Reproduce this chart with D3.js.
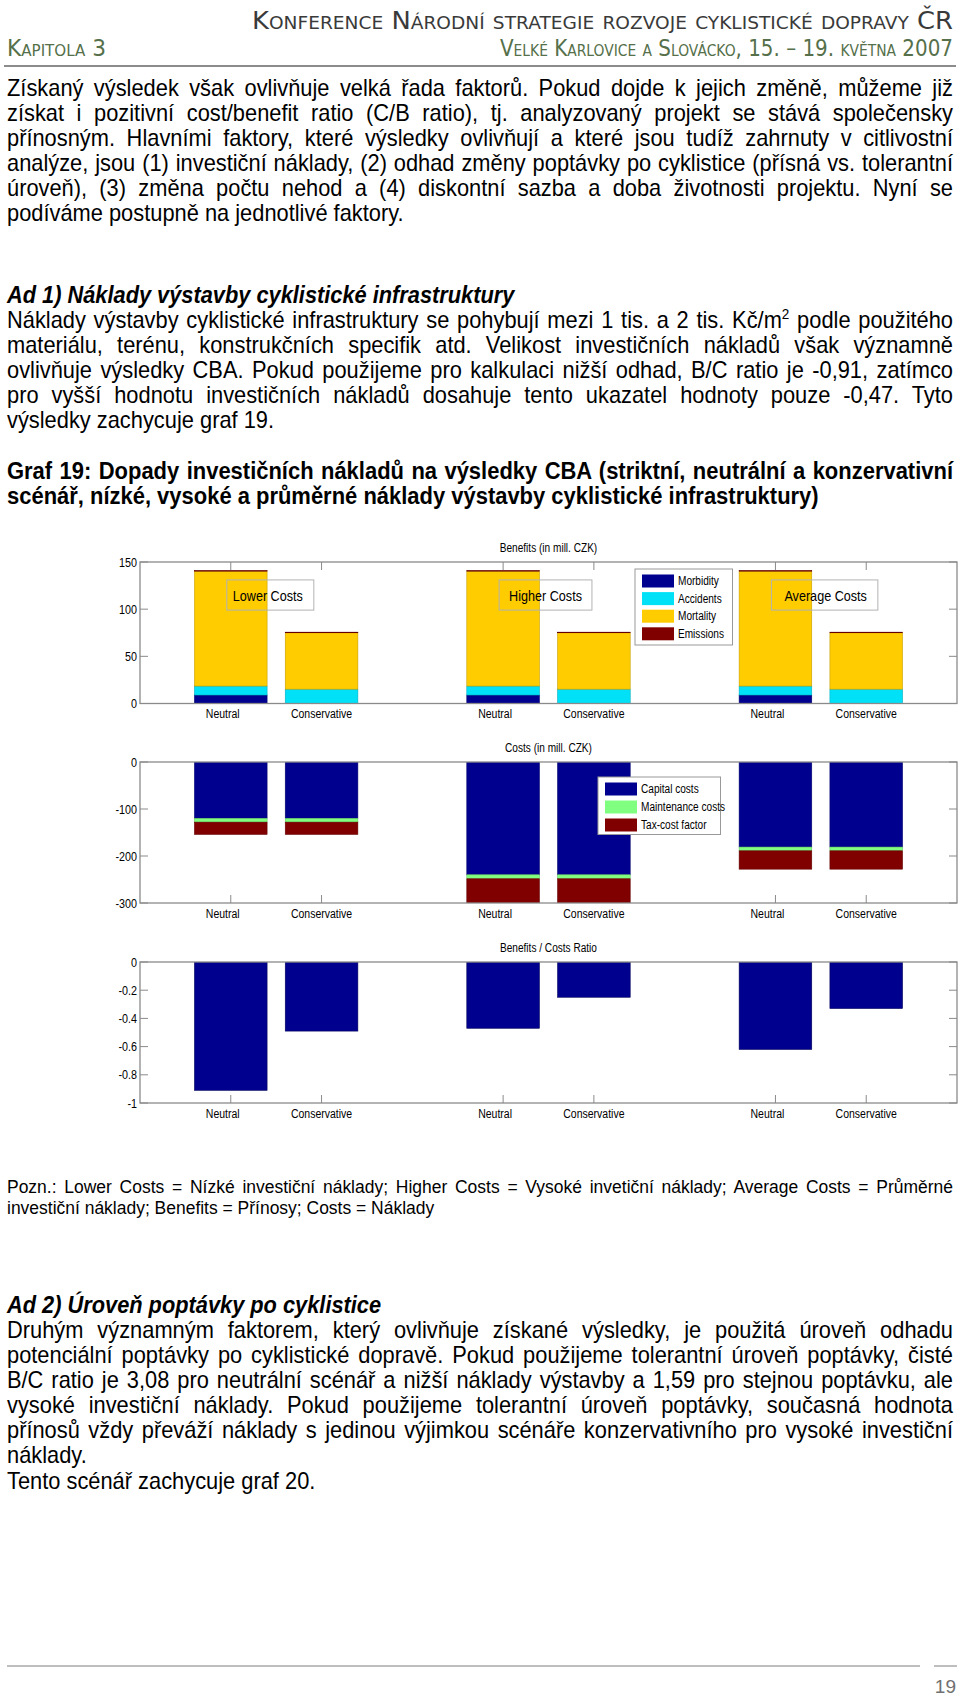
<!DOCTYPE html>
<html lang="cs"><head><meta charset="utf-8">
<script src="https://cdn.jsdelivr.net/npm/d3@7"></script>
<style>body{margin:0;background:#fff}svg{display:block}</style>
</head><body><svg id="page" width="960" height="1696"></svg>
<script>
// ---------- DATA ----------
const groups = ["Lower Costs", "Higher Costs", "Average Costs"];
const scenarios = ["Neutral", "Conservative"];
const benefitSeries = ["Morbidity", "Accidents", "Mortality", "Emissions"];
const morbidity = [9, 0, 9, 0, 9, 0];
const accidents = [9.5, 15.2, 9.5, 15.2, 9.5, 15.2];
const mortality = [121.8, 59.8, 121.8, 59.8, 121.8, 59.8];
const emissions = [0.5, 0.6, 0.5, 0.6, 0.5, 0.6];
const costSeries = ["Capital costs", "Maintenance costs", "Tax-cost factor"];
const capitalCosts = [-120, -120, -240, -240, -181, -181];
const maintenanceCosts = [-8, -8, -8.5, -8.5, -8, -8];
const taxCostFactor = [-26, -26, -51.5, -51.5, -39, -39];
const bcRatio = [-0.91, -0.49, -0.47, -0.25, -0.62, -0.33];
const benefitTicks = [0, 50, 100, 150];
const costTicks = [-300, -200, -100, 0];
const ratioTicks = [-1, -0.8, -0.6, -0.4, -0.2, 0];

// ---------- TEXT ----------
const headerLine1 = "Konference Národní strategie rozvoje cyklistické dopravy ČR";
const headerLeft = "Kapitola 3";
const headerRight = "Velké Karlovice a Slovácko, 15. – 19. května 2007";
const para1 = [
 "Získaný výsledek však ovlivňuje velká řada faktorů. Pokud dojde k jejich změně, můžeme již",
 "získat i pozitivní cost/benefit ratio (C/B ratio), tj. analyzovaný projekt se stává společensky",
 "přínosným. Hlavními faktory, které výsledky ovlivňují a které jsou tudíž zahrnuty v citlivostní",
 "analýze, jsou (1) investiční náklady, (2) odhad změny poptávky po cyklistice (přísná vs. tolerantní",
 "úroveň), (3) změna počtu nehod a (4) diskontní sazba a doba životnosti projektu. Nyní se",
 "podíváme postupně na jednotlivé faktory."];
const heading1 = "Ad 1) Náklady výstavby cyklistické infrastruktury";
const para2 = [
 "Náklady výstavby cyklistické infrastruktury se pohybují mezi 1 tis. a 2 tis. Kč/m^2 podle použitého",
 "materiálu, terénu, konstrukčních specifik atd. Velikost investičních nákladů však významně",
 "ovlivňuje výsledky CBA. Pokud použijeme pro kalkulaci nižší odhad, B/C ratio je -0,91, zatímco",
 "pro vyšší hodnotu investičních nákladů dosahuje tento ukazatel hodnoty pouze -0,47. Tyto",
 "výsledky zachycuje graf 19."];
const figTitle = [
 "Graf 19: Dopady investičních nákladů na výsledky CBA (striktní, neutrální a konzervativní",
 "scénář, nízké, vysoké a průměrné náklady výstavby cyklistické infrastruktury)"];
const note = [
 "Pozn.: Lower Costs = Nízké investiční náklady; Higher Costs = Vysoké invetiční náklady; Average Costs = Průměrné",
 "investiční náklady; Benefits = Přínosy; Costs = Náklady"];
const heading2 = "Ad 2) Úroveň poptávky po cyklistice";
const para3 = [
 "Druhým významným faktorem, který ovlivňuje získané výsledky, je použitá úroveň odhadu",
 "potenciální poptávky po cyklistické dopravě. Pokud použijeme tolerantní úroveň poptávky, čisté",
 "B/C ratio je 3,08 pro neutrální scénář a nižší náklady výstavby a 1,59 pro stejnou poptávku, ale",
 "vysoké investiční náklady. Pokud použijeme tolerantní úroveň poptávky, současná hodnota",
 "přínosů vždy převáží náklady s jedinou výjimkou scénáře konzervativního pro vysoké investiční",
 "náklady.",
 "Tento scénář zachycuje graf 20."];
const pageNumber = "19";

// ---------- LAYOUT ----------
const FONT = "'Liberation Sans', Arial, sans-serif";
const L = 7, R = 953;
const svg = d3.select("#page");

function textBlock(lines, y0, pitch, size, f, opts = {}) {
  const g = svg.append("g").attr("transform", `scale(${f},1)`);
  lines.forEach((line, i) => {
    const justify = i < lines.length - 1 && !(opts.noJustify || []).includes(i);
    const t = g.append("text")
      .attr("x", L / f).attr("y", y0 + i * pitch)
      .attr("font-family", FONT).attr("font-size", size)
      .attr("font-weight", opts.bold ? "bold" : null)
      .attr("font-style", opts.italic ? "italic" : null)
      .attr("fill", "#000");
    const parts = line.split("^");
    t.append("tspan").text(parts[0]);
    if (parts.length > 1) {
      const sup = parts[1].split(" ");
      t.append("tspan").attr("font-size", size * 0.62).attr("dy", -size * 0.38).text(sup[0]);
      t.append("tspan").attr("dy", size * 0.38).text(" " + sup.slice(1).join(" "));
    }
    if (justify) {
      const w = t.node().getComputedTextLength();
      const n = (line.match(/ /g) || []).length;
      const ws = ((R - L) / f - w) / n;
      t.attr("word-spacing", ws);
    }
  });
}

// header
const HFONT = "'DejaVu Sans', Verdana, sans-serif";
svg.append("text").attr("x", R).attr("y", 29).attr("text-anchor", "end")
  .attr("font-family", HFONT).attr("font-size", 25)
  .style("font-variant", "small-caps").attr("fill", "#3a3a3a")
  .attr("textLength", 701).attr("lengthAdjust", "spacingAndGlyphs").text(headerLine1);
svg.append("text").attr("x", L).attr("y", 56)
  .attr("font-family", HFONT).attr("font-size", 23)
  .style("font-variant", "small-caps").attr("fill", "#55704a")
  .attr("textLength", 99).attr("lengthAdjust", "spacingAndGlyphs").text(headerLeft);
svg.append("text").attr("x", R).attr("y", 56).attr("text-anchor", "end")
  .attr("font-family", HFONT).attr("font-size", 23)
  .style("font-variant", "small-caps").attr("fill", "#55704a")
  .attr("textLength", 453).attr("lengthAdjust", "spacingAndGlyphs").text(headerRight);
svg.append("line").attr("x1", 4).attr("x2", 956).attr("y1", 66).attr("y2", 66)
  .attr("stroke", "#8c8c8c").attr("stroke-width", 2);

textBlock(para1, 96, 25, 23, 0.95);
textBlock([heading1], 303, 25, 23, 0.948, {bold: true, italic: true});
textBlock(para2, 328, 25.1, 23, 0.95);
textBlock(figTitle, 479, 25.5, 24, 0.915, {bold: true});
textBlock(note, 1193, 21, 18.5, 0.945);
textBlock([heading2], 1313, 25, 23, 0.948, {bold: true, italic: true});
textBlock(para3, 1338, 25.1, 23, 0.95, {noJustify: [5]});

// footer
svg.append("line").attr("x1", 7).attr("x2", 920).attr("y1", 1666).attr("y2", 1666).attr("stroke", "#a8a8a8").attr("stroke-width", 1.5);
svg.append("line").attr("x1", 934).attr("x2", 957).attr("y1", 1666).attr("y2", 1666).attr("stroke", "#a8a8a8").attr("stroke-width", 1.5);
svg.append("text").attr("x", 956).attr("y", 1693).attr("text-anchor", "end")
  .attr("font-family", FONT).attr("font-size", 19).attr("fill", "#707070").text(pageNumber);

// ---------- CHARTS ----------
const rows = d3.range(6).map(i => ({
  pos: 1 + 3 * Math.floor(i / 2) + (i % 2),
  scen: scenarios[i % 2],
  Morbidity: morbidity[i], Accidents: accidents[i], Mortality: mortality[i], Emissions: emissions[i],
  "Capital costs": capitalCosts[i], "Maintenance costs": maintenanceCosts[i], "Tax-cost factor": taxCostFactor[i],
  ratio: bcRatio[i]
}));
const x = d3.scaleLinear().domain([0, 9]).range([140, 957]);
const barW = x(0.8) - x(0);
const benefitColors = {"Morbidity": "#00008f", "Accidents": "#00e1f8", "Mortality": "#ffcc00", "Emissions": "#800000"};
const costColors = {"Capital costs": "#00008f", "Maintenance costs": "#80ff80", "Tax-cost factor": "#800000"};
const FRAME = "#8a8a8a";
const plainFmt = t => String(t);

function narrowText(sel, f) {
  sel.each(function () {
    const w = this.getComputedTextLength();
    d3.select(this).attr("textLength", w * f).attr("lengthAdjust", "spacingAndGlyphs");
  });
}

function axesFrame(top, bottom, y, ticks, title, id) {
  const g = svg.append("g");
  const tl = 8;
  rows.forEach(r => {
    g.append("line").attr("x1", x(r.pos)).attr("x2", x(r.pos)).attr("y1", top).attr("y2", top + tl).attr("stroke", FRAME);
    g.append("line").attr("x1", x(r.pos)).attr("x2", x(r.pos)).attr("y1", bottom).attr("y2", bottom - tl).attr("stroke", FRAME);
  });
  ticks.forEach(t => {
    g.append("line").attr("x1", x(0)).attr("x2", x(0) + tl).attr("y1", y(t)).attr("y2", y(t)).attr("stroke", FRAME);
    g.append("line").attr("x1", x(9)).attr("x2", x(9) - tl).attr("y1", y(t)).attr("y2", y(t)).attr("stroke", FRAME);
  });
  svg.append("clipPath").attr("id", id).append("rect")
    .attr("x", x(0)).attr("y", top).attr("width", x(9) - x(0)).attr("height", bottom - top);
  const bars = svg.append("g").attr("clip-path", `url(#${id})`);
  const over = svg.append("g");
  over.append("rect").attr("x", x(0)).attr("y", top).attr("width", x(9) - x(0)).attr("height", bottom - top)
    .attr("fill", "none").attr("stroke", FRAME).attr("stroke-width", 1.3);
  ticks.forEach(t => {
    over.append("text").attr("x", x(0) - 3).attr("y", y(t) + 4.5).attr("text-anchor", "end")
      .attr("font-family", FONT).attr("font-size", 12.5).text(plainFmt(t)).call(narrowText, 0.86);
  });
  rows.forEach(r => {
    over.append("text").attr("x", x(r.pos) + (r.scen === "Neutral" ? -8 : 0)).attr("y", bottom + 14.5)
      .attr("text-anchor", "middle").attr("font-family", FONT).attr("font-size", 12.5).text(r.scen)
      .call(narrowText, 0.84);
  });
  over.append("text").attr("x", (x(0) + x(9)) / 2).attr("y", top - 10).attr("text-anchor", "middle")
    .attr("font-family", FONT).attr("font-size", 12).text(title).call(narrowText, 0.84);
  return {bars, over};
}

function legend(g, keys, colors, bx, by, bw, bh, pitch) {
  g.append("rect").attr("x", bx).attr("y", by).attr("width", bw).attr("height", bh)
    .attr("fill", "#fff").attr("stroke", "#999").attr("stroke-width", 1);
  keys.forEach((k, i) => {
    const cy = by + 12 + i * pitch;
    g.append("rect").attr("x", bx + 7).attr("y", cy - 6.5).attr("width", 32).attr("height", 13).attr("fill", colors[k]);
    g.append("text").attr("x", bx + 43).attr("y", cy + 4).attr("font-family", FONT).attr("font-size", 12)
      .text(k).call(narrowText, 0.84);
  });
}

// Benefits
{
  const top = 562, bottom = 703.5;
  const y = d3.scaleLinear().domain([0, 150]).range([bottom, top]);
  const {bars, over} = axesFrame(top, bottom, y, benefitTicks, "Benefits (in mill. CZK)", "clipB");
  const st = d3.stack().keys(benefitSeries)(rows);
  st.forEach(s => {
    bars.selectAll(null).data(s).join("rect")
      .attr("x", d => x(d.data.pos) - barW / 2).attr("width", barW)
      .attr("y", d => y(d[1])).attr("height", d => Math.max(0, y(d[0]) - y(d[1])))
      .attr("fill", benefitColors[s.key])
      .attr("stroke", d3.color(benefitColors[s.key]).darker(0.7)).attr("stroke-width", 0.6);
  });
  const pads = [[6, 11], [10, 10], [13, 11]];
  groups.forEach((gname, gi) => {
    const xn = x(1 + 3 * gi);
    const t = over.append("text").attr("x", xn - 4 + pads[gi][0]).attr("y", 601)
      .attr("font-family", FONT).attr("font-size", 15).text(gname).call(narrowText, 0.84);
    const w = +t.attr("textLength");
    over.insert("rect", "text").attr("x", xn - 4).attr("y", y(131)).attr("width", w + pads[gi][0] + pads[gi][1])
      .attr("height", y(99) - y(131)).attr("fill", "none").attr("stroke", "#b3b3b3").attr("stroke-width", 1);
  });
  legend(over, benefitSeries, benefitColors, 635, 569, 97.5, 76, 17.6);
}

// Costs
{
  const top = 762, bottom = 903;
  const y = d3.scaleLinear().domain([-300, 0]).range([bottom, top]);
  const {bars, over} = axesFrame(top, bottom, y, costTicks, "Costs (in mill. CZK)", "clipC");
  const st = d3.stack().keys(costSeries).offset(d3.stackOffsetDiverging)(rows);
  st.forEach(s => {
    bars.selectAll(null).data(s).join("rect")
      .attr("x", d => x(d.data.pos) - barW / 2).attr("width", barW)
      .attr("y", d => y(Math.max(d[0], d[1]))).attr("height", d => Math.abs(y(d[0]) - y(d[1])))
      .attr("fill", costColors[s.key])
      .attr("stroke", d3.color(costColors[s.key]).darker(0.7)).attr("stroke-width", 0.6);
  });
  legend(over, costSeries, costColors, 598, 777, 122.5, 57.5, 18);
}

// Ratio
{
  const top = 962, bottom = 1103;
  const y = d3.scaleLinear().domain([-1, 0]).range([bottom, top]);
  const {bars} = axesFrame(top, bottom, y, ratioTicks, "Benefits / Costs Ratio", "clipR");
  bars.selectAll(null).data(rows).join("rect")
    .attr("x", d => x(d.pos) - barW / 2).attr("width", barW)
    .attr("y", y(0)).attr("height", d => y(d.ratio) - y(0))
    .attr("fill", "#00008f").attr("stroke", "#00005a").attr("stroke-width", 0.6);
}
</script></body></html>
